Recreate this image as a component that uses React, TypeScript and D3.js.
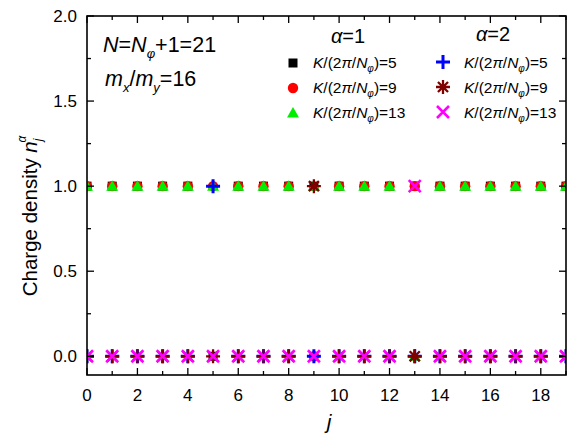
import React from "react";
import * as d3 from "d3";

const J = d3.range(0, 20);
const kValues = [5, 9, 13];
const alpha1: number[][] = kValues.map((k) => J.map((j) => (j === k ? 0 : 1)));
const alpha2: number[][] = kValues.map((k) => J.map((j) => (j === k ? 1 : 0)));
const xTicks = [0, 2, 4, 6, 8, 10, 12, 14, 16, 18];
const yTicks = [0, 0.5, 1.0, 1.5, 2.0];

const W = 567, H = 437;
const L = 87, R = 566, T = 16, B = 375;
const FONT = "Liberation Sans, Arial, Helvetica, sans-serif";

const x = d3.scaleLinear().domain([0, 19]).range([L, R]);
const y = d3.scaleLinear().domain([-0.11, 2.0]).range([B, T]);

type MK = "square" | "circle" | "triangle" | "plus" | "star" | "cross";
const styles: { mk: MK; color: string }[] = [
  { mk: "square", color: "#000000" },
  { mk: "circle", color: "#ff0000" },
  { mk: "triangle", color: "#00ee00" },
  { mk: "plus", color: "#0000ff" },
  { mk: "star", color: "#800000" },
  { mk: "cross", color: "#ff00ff" },
];

function Marker({ mk, color, cx, cy }: { mk: MK; color: string; cx: number; cy: number }) {
  switch (mk) {
    case "square":
      return <rect x={cx - 4.5} y={cy - 4.5} width={9} height={9} fill={color} />;
    case "circle":
      return <circle cx={cx} cy={cy} r={5.2} fill={color} />;
    case "triangle":
      return <path d={`M${cx},${cy - 6}L${cx + 6},${cy + 4.5}L${cx - 6},${cy + 4.5}Z`} fill={color} />;
    case "plus":
      return (
        <path d={`M${cx - 7},${cy}H${cx + 7}M${cx},${cy - 7}V${cy + 7}`} stroke={color} strokeWidth={3} />
      );
    case "star": {
      const r = 7, d = r * 0.72;
      return (
        <path
          d={`M${cx - r},${cy}H${cx + r}M${cx},${cy - r}V${cy + r}M${cx - d},${cy - d}L${cx + d},${cy + d}M${cx - d},${cy + d}L${cx + d},${cy - d}`}
          stroke={color}
          strokeWidth={2.3}
        />
      );
    }
    case "cross": {
      const d = 6;
      return (
        <path
          d={`M${cx - d},${cy - d}L${cx + d},${cy + d}M${cx - d},${cy + d}L${cx + d},${cy - d}`}
          stroke={color}
          strokeWidth={2.6}
        />
      );
    }
  }
}

function LegendLabel({ xPos, yPos, k }: { xPos: number; yPos: number; k: number }) {
  return (
    <text x={xPos} y={yPos} fontFamily={FONT} fontSize={15.5} fill="#000">
      <tspan fontStyle="italic">K</tspan>
      <tspan>/(2</tspan>
      <tspan fontStyle="italic">π</tspan>
      <tspan>/</tspan>
      <tspan fontStyle="italic">N</tspan>
      <tspan fontSize={10} dy={4} fontStyle="italic">φ</tspan>
      <tspan dy={-4}>)={k}</tspan>
    </text>
  );
}

export default function App() {
  const series = [...alpha1, ...alpha2];
  const xMinor = d3.range(0, 20);
  const yMinor = d3.range(0, 2.0001, 0.25);
  return (
    <svg width={W} height={H} style={{ position: "absolute", left: 0, top: 0 }}>
      <rect width={W} height={H} fill="#fff" />
      <defs>
        <clipPath id="plot">
          <rect x={L} y={T} width={R - L} height={B - T} />
        </clipPath>
      </defs>
      <g clipPath="url(#plot)">
        {series.map((vals, si) =>
          vals.map((v, i) => (
            <Marker key={`${si}-${i}`} mk={styles[si].mk} color={styles[si].color} cx={x(J[i])} cy={y(v)} />
          ))
        )}
      </g>
      {/* ticks */}
      <g stroke="#000" strokeWidth={1.3}>
        {xMinor.map((t) => {
          const len = t % 2 === 0 ? 7 : 4;
          return (
            <g key={`xt${t}`}>
              <line x1={x(t)} x2={x(t)} y1={B} y2={B - len} />
              <line x1={x(t)} x2={x(t)} y1={T} y2={T + len} />
            </g>
          );
        })}
        {yMinor.map((t) => {
          const len = Math.abs((t * 2) % 1) < 1e-6 ? 7 : 4;
          return (
            <g key={`yt${t}`}>
              <line x1={L} x2={L + len} y1={y(t)} y2={y(t)} />
              <line x1={R} x2={R - len} y1={y(t)} y2={y(t)} />
            </g>
          );
        })}
      </g>
      <rect x={L} y={T} width={R - L} height={B - T} fill="none" stroke="#000" strokeWidth={1.6} />
      {/* tick labels */}
      {xTicks.map((t) => (
        <text key={`xl${t}`} x={x(t)} y={401} textAnchor="middle" fontFamily={FONT} fontSize={17}>
          {t}
        </text>
      ))}
      {yTicks.map((t) => (
        <text key={`yl${t}`} x={77} y={y(t) + 6} textAnchor="end" fontFamily={FONT} fontSize={17}>
          {t.toFixed(1)}
        </text>
      ))}
      {/* axis titles */}
      <text x={329} y={429} textAnchor="middle" fontFamily={FONT} fontSize={21} fontStyle="italic">
        j
      </text>
      <g transform="translate(37,216) rotate(-90)">
        <text x={0} y={0} textAnchor="middle" fontFamily={FONT} fontSize={20.5}>
          <tspan>Charge density  </tspan>
          <tspan fontStyle="italic">n</tspan>
          <tspan fontStyle="italic" fontSize={12} dy={5}>j</tspan>
          <tspan fontStyle="italic" fontSize={12} dx={-4} dy={-16}>α</tspan>
        </text>
      </g>
      {/* annotations */}
      <text x={103} y={52} fontFamily={FONT} fontSize={21.5}>
        <tspan fontStyle="italic">N</tspan>
        <tspan>=</tspan>
        <tspan fontStyle="italic">N</tspan>
        <tspan fontStyle="italic" fontSize={13} dy={6}>φ</tspan>
        <tspan dy={-6}>+1=21</tspan>
      </text>
      <text x={105} y={86} fontFamily={FONT} fontSize={21.5}>
        <tspan fontStyle="italic">m</tspan>
        <tspan fontStyle="italic" fontSize={13} dy={6}>x</tspan>
        <tspan dy={-6}>/</tspan>
        <tspan fontStyle="italic">m</tspan>
        <tspan fontStyle="italic" fontSize={13} dy={6}>y</tspan>
        <tspan dy={-6}>=16</tspan>
      </text>
      {/* legend */}
      <text x={348} y={43} textAnchor="middle" fontFamily={FONT} fontSize={20}>
        <tspan fontStyle="italic">α</tspan>=1
      </text>
      <text x={493} y={41} textAnchor="middle" fontFamily={FONT} fontSize={20}>
        <tspan fontStyle="italic">α</tspan>=2
      </text>
      {kValues.map((k, i) => (
        <g key={`lg${k}`}>
          <Marker mk={styles[i].mk} color={styles[i].color} cx={293} cy={63 + i * 25} />
          <LegendLabel xPos={313} yPos={68 + i * 25} k={k} />
          <Marker mk={styles[i + 3].mk} color={styles[i + 3].color} cx={443} cy={62 + i * 25} />
          <LegendLabel xPos={464} yPos={68 + i * 25} k={k} />
        </g>
      ))}
    </svg>
  );
}
